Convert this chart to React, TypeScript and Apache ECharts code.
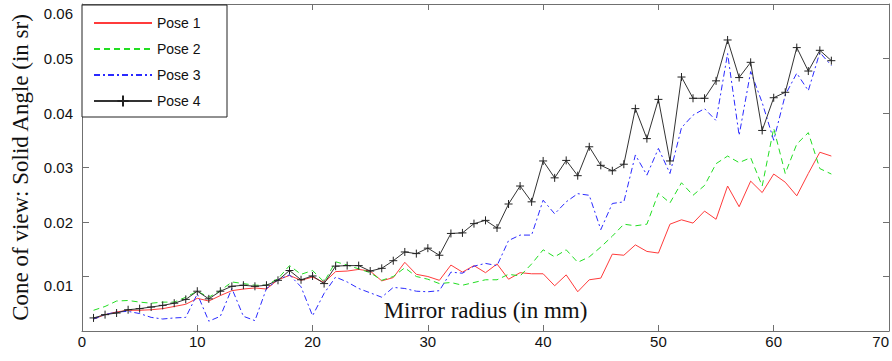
import React, { useEffect, useRef } from 'react';
import * as echarts from 'echarts';

const radius = [1, 2, 3, 4, 5, 6, 7, 8, 9, 10, 11, 12, 13, 14, 15, 16, 17, 18, 19, 20, 21, 22, 23, 24, 25, 26, 27, 28, 29, 30, 31, 32, 33, 34, 35, 36, 37, 38, 39, 40, 41, 42, 43, 44, 45, 46, 47, 48, 49, 50, 51, 52, 53, 54, 55, 56, 57, 58, 59, 60, 61, 62, 63, 64, 65];

const pose1 = [0.0022, 0.0030, 0.0035, 0.0038, 0.0038, 0.0039, 0.0041, 0.0045, 0.0049, 0.0060, 0.0055, 0.0065, 0.0074, 0.0077, 0.0079, 0.0077, 0.0094, 0.0102, 0.0093, 0.0099, 0.0089, 0.0109, 0.0110, 0.0113, 0.0110, 0.0092, 0.0098, 0.0126, 0.0104, 0.0100, 0.0093, 0.0121, 0.0108, 0.0120, 0.0107, 0.0123, 0.0095, 0.0107, 0.0105, 0.0105, 0.0083, 0.0103, 0.0072, 0.0094, 0.0097, 0.0141, 0.0139, 0.0158, 0.0146, 0.0143, 0.0196, 0.0204, 0.0198, 0.0220, 0.0205, 0.0266, 0.0228, 0.0275, 0.0254, 0.0288, 0.0273, 0.0248, 0.0289, 0.0328, 0.0321];

const pose2 = [0.0038, 0.0045, 0.0055, 0.0056, 0.0053, 0.0051, 0.0053, 0.0053, 0.0062, 0.0073, 0.0062, 0.0074, 0.0090, 0.0087, 0.0084, 0.0084, 0.0096, 0.0120, 0.0104, 0.0111, 0.0090, 0.0127, 0.0121, 0.0114, 0.0107, 0.0093, 0.0100, 0.0116, 0.0100, 0.0095, 0.0087, 0.0089, 0.0084, 0.0089, 0.0094, 0.0094, 0.0104, 0.0101, 0.0123, 0.0149, 0.0136, 0.0149, 0.0126, 0.0136, 0.0154, 0.0174, 0.0196, 0.0193, 0.0196, 0.0253, 0.0235, 0.0272, 0.0249, 0.0267, 0.0307, 0.0321, 0.0309, 0.0318, 0.0266, 0.0372, 0.0289, 0.0343, 0.0364, 0.0298, 0.0288];

const pose3 = [0.0022, 0.0030, 0.0035, 0.0036, 0.0032, 0.0025, 0.0022, 0.0024, 0.0025, 0.0068, 0.0018, 0.0027, 0.0078, 0.0027, 0.0019, 0.0078, 0.0094, 0.0103, 0.0081, 0.0028, 0.0069, 0.0099, 0.0090, 0.0078, 0.0070, 0.0062, 0.0080, 0.0078, 0.0073, 0.0072, 0.0074, 0.0108, 0.0106, 0.0119, 0.0124, 0.0120, 0.0166, 0.0176, 0.0176, 0.0240, 0.0215, 0.0237, 0.0252, 0.0249, 0.0186, 0.0234, 0.0237, 0.0323, 0.0286, 0.0335, 0.0289, 0.0373, 0.0396, 0.0408, 0.0386, 0.0509, 0.0359, 0.0476, 0.0419, 0.0350, 0.0433, 0.0473, 0.0441, 0.0511, 0.0487];

const pose4 = [0.0024, 0.0030, 0.0033, 0.0039, 0.0041, 0.0044, 0.0047, 0.0051, 0.0058, 0.0073, 0.0059, 0.0073, 0.0082, 0.0084, 0.0082, 0.0084, 0.0093, 0.0111, 0.0094, 0.0101, 0.0087, 0.0119, 0.0120, 0.0120, 0.0110, 0.0115, 0.0129, 0.0145, 0.0142, 0.0152, 0.0139, 0.0179, 0.0180, 0.0197, 0.0203, 0.0189, 0.0233, 0.0266, 0.0237, 0.0312, 0.0281, 0.0313, 0.0285, 0.0338, 0.0304, 0.0294, 0.0306, 0.0408, 0.0353, 0.0425, 0.0312, 0.0466, 0.0427, 0.0427, 0.0459, 0.0534, 0.0465, 0.0493, 0.0368, 0.0428, 0.0438, 0.0520, 0.0477, 0.0515, 0.0496];

const seriesNames = ['Pose 1', 'Pose 2', 'Pose 3', 'Pose 4'];
const xTitle = 'Mirror radius (in mm)';
const yTitle = 'Cone of view: Solid Angle (in sr)';

const AXIS_GRAY = '#707070';

export default function App() {
  const ref = useRef<HTMLDivElement>(null);

  useEffect(() => {
    if (!ref.current) return;
    const chart = echarts.init(ref.current, null, { renderer: 'svg' });
    const toPairs = (arr: number[]) => arr.map((v, i) => [radius[i], v]);

    const boxAxisCommon = {
      axisLine: { show: true, onZero: false, lineStyle: { color: AXIS_GRAY, width: 1 } },
      axisTick: { show: true, inside: true, length: 6, lineStyle: { color: AXIS_GRAY } },
      splitLine: { show: false },
    };

    const hiddenSymbol = { opacity: 0, borderWidth: 0 };

    chart.setOption({
      animation: false,
      backgroundColor: '#fff',
      grid: { left: 82, right: 3, top: 4, bottom: 30, containLabel: false, outerBoundsMode: 'none' },
      legend: {
        data: [
          { name: seriesNames[0], itemStyle: hiddenSymbol },
          { name: seriesNames[1], itemStyle: hiddenSymbol },
          { name: seriesNames[2], itemStyle: hiddenSymbol },
          { name: seriesNames[3] },
        ],
        orient: 'vertical',
        left: 82,
        top: 5,
        padding: [11, 14, 9, 11],
        itemGap: 12,
        itemWidth: 58,
        itemHeight: 14,
        borderColor: '#222',
        borderWidth: 1,
        borderRadius: 0,
        backgroundColor: '#fff',
        z: 10,
        textStyle: { fontFamily: 'Liberation Sans', fontSize: 14, lineHeight: 14, color: '#111', width: 56 },
      },
      xAxis: [
        {
          type: 'value',
          min: 0,
          max: 70,
          interval: 10,
          position: 'bottom',
          ...boxAxisCommon,
          axisLabel: {
            color: '#111',
            fontFamily: 'Liberation Sans',
            fontSize: 15,
            margin: 3,
            alignMaxLabel: 'right',
          },
          name: xTitle,
          nameLocation: 'middle',
          nameGap: -32,
          nameMoveOverlap: false,
          nameTextStyle: { fontFamily: 'Liberation Serif', fontSize: 23, color: '#111' },
        },
        {
          type: 'value',
          min: 0,
          max: 70,
          interval: 10,
          position: 'top',
          ...boxAxisCommon,
          axisLabel: { show: false },
        },
      ],
      yAxis: [
        {
          type: 'value',
          min: 0,
          max: 0.06,
          interval: 0.01,
          position: 'left',
          ...boxAxisCommon,
          axisTick: { show: true, inside: true, length: 7, lineStyle: { color: AXIS_GRAY } },
          axisLabel: {
            color: '#111',
            fontFamily: 'Liberation Sans',
            fontSize: 15,
            margin: 9,
            lineHeight: 18,
            formatter: (v: number) => {
              if (v < 1e-9) return '';
              const s = v.toFixed(2);
              if (s === '0.06' || s === '0.01') return '\n' + s;
              return s;
            },
          },
          name: yTitle,
          nameLocation: 'middle',
          nameGap: 50,
          nameMoveOverlap: false,
          nameTextStyle: { fontFamily: 'Liberation Serif', fontSize: 23, color: '#111' },
        },
        {
          type: 'value',
          min: 0,
          max: 0.06,
          interval: 0.01,
          position: 'right',
          ...boxAxisCommon,
          axisLabel: { show: false },
        },
      ],
      series: [
        {
          name: 'Pose 1',
          type: 'line',
          data: toPairs(pose1),
          symbol: 'none',
          color: '#ff3b3b',
          lineStyle: { color: '#ff3b3b', width: 1 },
          z: 2,
        },
        {
          name: 'Pose 2',
          type: 'line',
          data: toPairs(pose2),
          symbol: 'none',
          color: '#22dd22',
          lineStyle: { color: '#22dd22', width: 1, type: [6, 4] },
          z: 3,
        },
        {
          name: 'Pose 3',
          type: 'line',
          data: toPairs(pose3),
          symbol: 'none',
          color: '#2a2aff',
          lineStyle: { color: '#2a2aff', width: 1, type: [6, 3, 2, 3] },
          z: 4,
        },
        {
          name: 'Pose 4',
          type: 'line',
          data: toPairs(pose4),
          symbol: 'path://M5,0L5,10M0,5L10,5',
          symbolSize: 8,
          showSymbol: true,
          color: '#222',
          itemStyle: { color: '#222', borderColor: '#222', borderWidth: 1 },
          lineStyle: { color: '#333', width: 1 },
          z: 5,
        },
      ],
    });

    return () => chart.dispose();
  }, []);

  return (
    <div
      ref={ref}
      style={{ position: 'absolute', left: 0, top: 0, width: 892, height: 361 }}
    />
  );
}
